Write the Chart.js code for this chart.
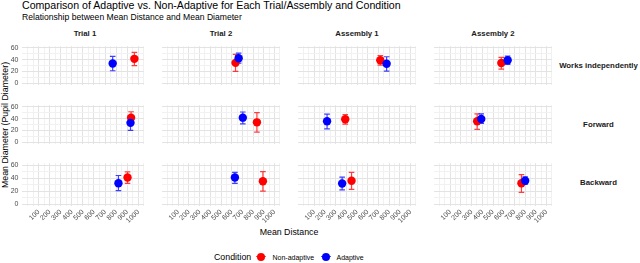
<!DOCTYPE html>
<html>
<head>
<meta charset="utf-8">
<script src="https://cdn.jsdelivr.net/npm/chart.js@4.4.1/dist/chart.umd.min.js"></script>
<style>
  html, body { margin:0; padding:0; background:#fff; }
  body { width:640px; height:263px; position:relative; overflow:hidden; font-family:"Liberation Sans", Arial, sans-serif; }
  .t { position:absolute; white-space:nowrap; line-height:1; }
  canvas { position:absolute; }
</style>
</head>
<body>
<script>
// ---------------- data ----------------
const rowLabels = ["Works independently", "Forward", "Backward"];
const colLabels = ["Trial 1", "Trial 2", "Assembly 1", "Assembly 2"];
const conditions = ["Non-adaptive", "Adaptive"];
const xTickLabels = [100, 200, 300, 400, 500, 600, 700, 800, 900, 1000];
const yTickLabels = [0, 20, 40, 60];

// panels in row-major order: (Works: T1,T2,A1,A2), (Forward: ...), (Backward: ...)
const nonAdaptiveDistance = [965, 636, 718, 578,   935, 836, 390, 352,   903, 892, 449, 766];
const nonAdaptiveDiameter = [41.4, 34.5, 39.0, 34.4, 41.7, 33.7, 38.9, 35.6, 40.9, 35.2, 36.0, 32.0];
const nonAdaptiveLow      = [29.7, 20.0, 30.7, 23.7, 31.0, 17.0, 30.5, 21.7, 32.0, 19.8, 22.5, 18.0];
const nonAdaptiveHigh     = [52.5, 49.0, 47.0, 44.0, 51.8, 50.4, 47.0, 48.0, 49.6, 50.0, 48.8, 45.5];

const adaptiveDistance    = [769, 665, 777, 637,   930, 704, 220, 390,   821, 630, 361, 801];
const adaptiveDiameter    = [33.5, 42.3, 33.0, 39.0, 32.8, 41.7, 35.6, 39.3, 32.0, 41.0, 31.6, 36.0];
const adaptiveLow         = [21.0, 34.0, 20.5, 32.0, 19.9, 31.0, 22.6, 32.0, 20.7, 32.0, 22.0, 30.6];
const adaptiveHigh        = [45.6, 51.0, 45.0, 46.0, 45.0, 51.4, 47.6, 48.0, 44.0, 49.0, 41.5, 42.0];

// ---------------- layout ----------------
const RED = '#ff0000', BLUE = '#0000ff';
const colLefts = [22, 158, 294, 430];
const rowTops = [42, 101, 159];
const PW = 126, PH = 47;
const YW = 22, XH = 22;
const xGridValues = [];
for (let v = 0; v <= 1050; v += 50) xGridValues.push(v);
const yGridValues = [0, 10, 20, 30, 40, 50, 60];

function addText(txt, css) {
  const d = document.createElement('div');
  d.className = 't';
  d.textContent = txt;
  Object.assign(d.style, css);
  document.body.appendChild(d);
  return d;
}

// titles
addText("Comparison of Adaptive vs. Non-Adaptive for Each Trial/Assembly and Condition",
  { left:'22px', top:'0px', fontSize:'10.6px', color:'#000' });
addText("Relationship between Mean Distance and Mean Diameter",
  { left:'22px', top:'13px', fontSize:'8.6px', color:'#000' });

// column strips
colLabels.forEach((lab, c) => {
  addText(lab, { left:(colLefts[c] + PW/2) + 'px', top:'33.5px', transform:'translate(-50%,-50%)',
    fontSize:'7.8px', fontWeight:'bold', color:'#1a1a1a' });
});
// row strips
rowLabels.forEach((lab, r) => {
  addText(lab, { left:'598.5px', top:(rowTops[r] + PH/2) + 'px', transform:'translate(-50%,-50%)',
    fontSize:'7.8px', fontWeight:'bold', color:'#1a1a1a' });
});
// axis titles
addText("Mean Distance", { left:'289px', top:'232px', transform:'translate(-50%,-50%)', fontSize:'8.8px', color:'#000' });
addText("Mean Diameter (Pupil Diameter)", { left:'4.5px', top:'125px', transform:'translate(-50%,-50%) rotate(-90deg)', fontSize:'8.8px', color:'#000' });

// legend
addText("Condition", { left:'214px', top:'256.5px', transform:'translateY(-50%)', fontSize:'8.8px', color:'#000' });
function legendKey(cx, color) {
  const line = document.createElement('div');
  Object.assign(line.style, { position:'absolute', left:(cx-5)+'px', top:'256px', width:'10px', height:'1px', background:color, opacity:'0.7' });
  document.body.appendChild(line);
  const dot = document.createElement('div');
  Object.assign(dot.style, { position:'absolute', left:(cx-4)+'px', top:'252.5px', width:'8px', height:'8px', borderRadius:'50%', background:color });
  document.body.appendChild(dot);
}
legendKey(261, RED);
addText(conditions[0], { left:'272.5px', top:'256.5px', transform:'translateY(-50%)', fontSize:'7px', color:'#000' });
legendKey(325.5, BLUE);
addText(conditions[1], { left:'336.5px', top:'256.5px', transform:'translateY(-50%)', fontSize:'7px', color:'#000' });

// ---------------- error bars plugin ----------------
const errorBars = {
  id: 'errorBars',
  beforeDatasetsDraw(chart) {
    const { ctx, scales: { x, y } } = chart;
    const sets = chart.data.datasets.slice().sort((a, b) => b.order - a.order);
    sets.forEach(ds => {
      const px = x.getPixelForValue(ds.data[0].x);
      const lo = y.getPixelForValue(ds.errLow);
      const hi = y.getPixelForValue(ds.errHigh);
      ctx.save();
      ctx.strokeStyle = ds.errColor;
      ctx.globalAlpha = 0.75;
      ctx.lineWidth = 1.2;
      ctx.beginPath();
      ctx.moveTo(px, lo); ctx.lineTo(px, hi);
      ctx.moveTo(px - 2.8, lo); ctx.lineTo(px + 2.8, lo);
      ctx.moveTo(px - 2.8, hi); ctx.lineTo(px + 2.8, hi);
      ctx.stroke();
      ctx.restore();
    });
  }
};

function gridColor(isMajor) { return isMajor ? '#e3e3e3' : '#f1f1f1'; }

for (let r = 0; r < 3; r++) {
  for (let c = 0; c < 4; c++) {
    const idx = r * 4 + c;
    const cv = document.createElement('canvas');
    const left = colLefts[c] - (c === 0 ? YW : 0);
    const w = PW + (c === 0 ? YW : 0);
    const h = PH + (r === 2 ? XH : 0);
    cv.width = w; cv.height = h;
    cv.style.left = left + 'px'; cv.style.top = rowTops[r] + 'px';
    cv.style.width = w + 'px'; cv.style.height = h + 'px';
    document.body.appendChild(cv);

    new Chart(cv, {
      type: 'scatter',
      data: {
        datasets: [
          { label: conditions[1], data: [{ x: adaptiveDistance[idx], y: adaptiveDiameter[idx] }],
            errLow: adaptiveLow[idx], errHigh: adaptiveHigh[idx], errColor: BLUE,
            backgroundColor: BLUE, borderWidth: 0, pointRadius: 4.2, order: 0 },
          { label: conditions[0], data: [{ x: nonAdaptiveDistance[idx], y: nonAdaptiveDiameter[idx] }],
            errLow: nonAdaptiveLow[idx], errHigh: nonAdaptiveHigh[idx], errColor: RED,
            backgroundColor: RED, borderWidth: 0, pointRadius: 4.2, order: 1 }
        ]
      },
      options: {
        responsive: false, animation: false, devicePixelRatio: 1,
        layout: { padding: 0 },
        plugins: { legend: { display: false }, tooltip: { enabled: false } },
        scales: {
          x: {
            type: 'linear', min: -50, max: 1050,
            afterBuildTicks: s => { s.ticks = xGridValues.map(v => ({ value: v })); },
            afterFit: s => { s.height = (r === 2 ? XH : 0); s.paddingLeft = 0; s.paddingRight = 0; },
            ticks: { display: r === 2, autoSkip: false, minRotation: 45, maxRotation: 45, padding: 2,
              font: { family: 'Liberation Sans', size: 7 }, color: '#4d4d4d',
              callback: v => xTickLabels.includes(v) ? String(v) : '' },
            grid: { drawTicks: false, color: ctx => gridColor(xTickLabels.includes(ctx.tick.value)), lineWidth: 1 },
            border: { display: false }
          },
          y: {
            type: 'linear', min: -3, max: 63,
            afterBuildTicks: s => { s.ticks = yGridValues.map(v => ({ value: v })); },
            afterFit: s => { s.width = (c === 0 ? YW : 0); s.paddingTop = 0; s.paddingBottom = 0; },
            ticks: { display: c === 0, autoSkip: false, padding: 3.5,
              font: { family: 'Liberation Sans', size: 7 }, color: '#4d4d4d',
              callback: v => yTickLabels.includes(v) ? String(v) : '' },
            grid: { drawTicks: false, color: ctx => gridColor(yTickLabels.includes(ctx.tick.value)), lineWidth: 1 },
            border: { display: false }
          }
        }
      },
      plugins: [errorBars]
    });
  }
}
</script>
</body>
</html>
